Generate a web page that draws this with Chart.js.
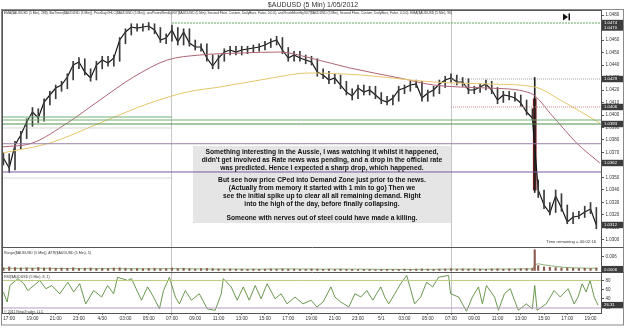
<!DOCTYPE html>
<html>
<head>
<meta charset="utf-8">
<script src="https://cdn.jsdelivr.net/npm/chart.js@4.4.1/dist/chart.umd.min.js"></script>
<style>
  html, body { margin: 0; padding: 0; background: #fff; }
  #wrap { width: 625px; height: 330px; }
</style>
</head>
<body>
<div id="wrap"><canvas id="c" width="625" height="330"></canvas></div>
<script>
// hours are counted from 17:00 on 4/29, one close every 30 min starting 16:30
const closes = [
  1.03656, 1.03576, 1.03760, 1.03840, 1.03944, 1.04024, 1.03976, 1.04104, 1.04160, 1.04216,
  1.04240, 1.04304, 1.04400, 1.04424, 1.04344, 1.04296, 1.04400, 1.04440, 1.04416, 1.04456,
  1.04600, 1.04664, 1.04704, 1.04696, 1.04704, 1.04712, 1.04680, 1.04600, 1.04616, 1.04680,
  1.04584, 1.04664, 1.04576, 1.04544, 1.04544, 1.04456, 1.04392, 1.04456, 1.04504, 1.04520,
  1.04504, 1.04520, 1.04528, 1.04536, 1.04544, 1.04560, 1.04584, 1.04600, 1.04520, 1.04456,
  1.04480, 1.04456, 1.04440, 1.04424, 1.04344, 1.04320, 1.04280, 1.04296, 1.04240, 1.04184,
  1.04152, 1.04216, 1.04184, 1.04200, 1.04160, 1.04120, 1.04104, 1.04136, 1.04200, 1.04216,
  1.04240, 1.04248, 1.04136, 1.04176, 1.04200, 1.04248, 1.04280, 1.04296, 1.04264, 1.04264,
  1.04200, 1.04200, 1.04224, 1.04248, 1.04200, 1.04120, 1.04160, 1.04152, 1.04136, 1.04096,
  1.04024, 1.03976, 1.03400, 1.03280, 1.03216, 1.03352, 1.03256, 1.03144, 1.03184, 1.03192,
  1.03224, 1.03248, 1.03120
];
const highs = [
  1.0370, 1.0369, 1.0379, 1.0387, 1.0397, 1.0406, 1.0405, 1.0413, 1.0419, 1.0424,
  1.0427, 1.0433, 1.0443, 1.0446, 1.0445, 1.0437, 1.0443, 1.0447, 1.0447, 1.0448,
  1.0462, 1.0469, 1.0473, 1.0473, 1.0473, 1.0474, 1.0473, 1.0470, 1.0465, 1.0472,
  1.0470, 1.0469, 1.0469, 1.0460, 1.0457, 1.0457, 1.0448, 1.0448, 1.0453, 1.0455,
  1.0455, 1.0455, 1.0455, 1.0456, 1.0457, 1.0459, 1.0461, 1.0463, 1.0462, 1.0454,
  1.0451, 1.0451, 1.0448, 1.0447, 1.0445, 1.0437, 1.0435, 1.0433, 1.0432, 1.0427,
  1.0421, 1.0424, 1.0424, 1.0423, 1.0423, 1.0418, 1.0415, 1.0416, 1.0423, 1.0424,
  1.0427, 1.0428, 1.0427, 1.0420, 1.0423, 1.0428, 1.0431, 1.0433, 1.0432, 1.0430,
  1.0429, 1.0423, 1.0425, 1.0428, 1.0427, 1.0422, 1.0419, 1.0419, 1.0418, 1.0416,
  1.0412, 1.0405, 1.0348, 1.0340, 1.0330, 1.0340, 1.0337, 1.0328, 1.0322, 1.0323,
  1.0327, 1.0330, 1.0326
];
const lows = [
  1.0360, 1.0354, 1.0356, 1.0373, 1.0381, 1.0391, 1.0394, 1.0395, 1.0408, 1.0413,
  1.0419, 1.0421, 1.0428, 1.0437, 1.0432, 1.0427, 1.0428, 1.0437, 1.0439, 1.0439,
  1.0443, 1.0457, 1.0464, 1.0467, 1.0467, 1.0468, 1.0465, 1.0458, 1.0457, 1.0459,
  1.0456, 1.0456, 1.0455, 1.0452, 1.0451, 1.0443, 1.0437, 1.0437, 1.0443, 1.0448,
  1.0448, 1.0448, 1.0449, 1.0450, 1.0451, 1.0452, 1.0454, 1.0456, 1.0449, 1.0443,
  1.0443, 1.0443, 1.0441, 1.0440, 1.0431, 1.0429, 1.0425, 1.0425, 1.0421, 1.0416,
  1.0412, 1.0413, 1.0416, 1.0416, 1.0413, 1.0409, 1.0408, 1.0408, 1.0411, 1.0417,
  1.0419, 1.0422, 1.0411, 1.0411, 1.0415, 1.0417, 1.0422, 1.0426, 1.0424, 1.0423,
  1.0417, 1.0417, 1.0418, 1.0420, 1.0417, 1.0409, 1.0410, 1.0412, 1.0411, 1.0407,
  1.0400, 1.0396, 1.0334, 1.0325, 1.0320, 1.0322, 1.0323, 1.0313, 1.0313, 1.0317,
  1.0318, 1.0321, 1.0309
];
const closeHours = closes.map((_, i) => -0.5 + i * 0.5);

// the RBA bar (14:15 on 5/1)
const newsHour = 45.2;
const newsHigh = 1.0430;
const newsOpen = 1.0413;
const newsClose = 1.0340;
const newsLow = 1.0338;

const ema96Hours = [-0.6, 2.0, 5.0, 7.8, 10.7, 13.6, 16.4, 19.9, 23.3, 25.9, 29.3, 33.6, 36.5, 41.1, 44.8, 46.8, 48.8, 50.8];
const ema96 = [1.03744, 1.03776, 1.03936, 1.0412, 1.04304, 1.0444, 1.0448, 1.04496, 1.04504, 1.04456, 1.04376, 1.04296, 1.0424, 1.04216, 1.04176, 1.03984, 1.03776, 1.03616];
const ema288Hours = [-0.6, 3.5, 7.8, 12.1, 15.3, 18.1, 21.6, 25.9, 30.2, 36.5, 41.4, 45.2, 47.4, 50.8];
const ema288 = [1.03696, 1.03776, 1.03936, 1.04096, 1.04184, 1.04224, 1.0428, 1.04336, 1.0432, 1.04264, 1.04248, 1.04224, 1.0412, 1.03936];

// pivots / prior day levels
const levelPrices = [1.04736, 1.04288, 1.04064, 1.03984, 1.0396, 1.03928, 1.03896, 1.0377, 1.03544, 1.03496];
const levelFrom = [14, 38, 38, -1, -1, -1, -1, -1, -1, -1];
const levelTo = [52, 52, 52, 14, 52, 52, 14, 52, 52, 14];
const levelStyles = [
  { color: '#62a862', dash: [2, 1] },
  { color: '#a0a0a0', dash: [1, 1] },
  { color: '#c48c8c', dash: [1, 1] },
  { color: '#72ae72', dash: [] },
  { color: '#72ae72', dash: [] },
  { color: '#4f8f4f', dash: [] },
  { color: '#b0b0b0', dash: [1, 1] },
  { color: '#9c80aa', dash: [] },
  { color: '#7a5c98', dash: [] },
  { color: '#b0b0b0', dash: [1, 1] }
];

const rangeValues = [
  0.0012, 0.0016, 0.0013, 0.0011, 0.0012, 0.0010, 0.0013, 0.0011, 0.0012, 0.0010,
  0.0011, 0.0010, 0.0012, 0.0009, 0.0010, 0.0011, 0.0009, 0.0010, 0.0009, 0.0011,
  0.0012, 0.0010, 0.0008, 0.0009, 0.0008, 0.0009, 0.0010, 0.0008, 0.0009, 0.0011,
  0.0009, 0.0010, 0.0008, 0.0007, 0.0008, 0.0009, 0.0008, 0.0007, 0.0006, 0.0007,
  0.0006, 0.0006, 0.0005, 0.0006, 0.0005, 0.0006, 0.0007, 0.0006, 0.0007, 0.0006,
  0.0006, 0.0005, 0.0006, 0.0007, 0.0006, 0.0005, 0.0006, 0.0005, 0.0006, 0.0005,
  0.0005, 0.0004, 0.0005, 0.0005, 0.0004, 0.0005, 0.0005, 0.0004, 0.0005, 0.0006,
  0.0005, 0.0006, 0.0007, 0.0006, 0.0005, 0.0006, 0.0007, 0.0008, 0.0006, 0.0007,
  0.0006, 0.0007, 0.0006, 0.0005, 0.0007, 0.0008, 0.0006, 0.0007, 0.0006, 0.0008,
  0.0009, 0.0010, 0.0022, 0.0016, 0.0014, 0.0013, 0.0011, 0.0012, 0.0010, 0.0009,
  0.0010, 0.0009, 0.0011
];
const newsRange = 0.0092;
const atrHours = [-0.5, 2, 4, 6, 8, 10, 12, 14, 16, 18, 20, 22, 24, 26, 28, 30, 32, 34, 36, 38, 40, 42, 44, 45, 45.2, 45.5, 46, 47, 48, 49, 50, 50.6];
const atrValues = [0.0009, 0.0010, 0.0009, 0.0008, 0.0008, 0.0008, 0.0007, 0.0008, 0.0007, 0.0006, 0.0006, 0.0006, 0.0007, 0.0006, 0.0006, 0.0006, 0.0005, 0.0005, 0.0005, 0.0006, 0.0006, 0.0006, 0.0007, 0.0007, 0.0025, 0.0030, 0.0025, 0.0018, 0.0013, 0.0011, 0.0010, 0.0010];

const rsiHours = [-0.5, -0.18, 0.06, 0.75, 1.26, 1.6, 2.63, 3.15, 3.66, 4.35, 5.04, 5.55, 6.06, 6.58, 7.26, 7.95, 8.46, 8.98, 9.32, 10.18,
  10.52, 11.04, 11.38, 11.9, 12.41, 12.92, 13.27, 13.78, 14.29, 14.64, 15.15, 15.67, 16.35, 17.04, 17.72, 18.24, 18.41, 19.09, 19.61, 20.13,
  20.64, 21.16, 21.67, 22.18, 22.87, 23.38, 23.9, 24.58, 25.27, 25.96, 26.47, 26.99, 27.67, 28.01, 28.53, 29.21, 29.73, 30.24, 30.76, 31.27,
  31.96, 32.3, 32.64, 33.16, 33.67, 34.19, 34.87, 35.39, 35.9, 36.42, 36.93, 37.79, 37.96, 38.65, 39.33, 39.84, 40.36, 40.7, 41.05, 41.74,
  42.08, 42.59, 43.1, 43.45, 43.79, 44.48, 44.99, 45.2, 45.4, 46.19, 46.87, 47.39, 48.07, 48.59, 48.93, 49.28, 49.62, 49.96, 50.31, 50.65];
const rsiValues = [55, 33, 69, 84, 73, 58, 80, 62, 69, 51, 76, 55, 73, 29, 58, 44, 69, 51, 87, 80,
  84, 55, 37, 66, 44, 18, 58, 87, 44, 29, 58, 37, 51, 18, 15, 51, 84, 66, 37, 66,
  37, 69, 40, 73, 40, 51, 29, 44, 29, 37, 22, 33, 66, 44, 33, 22, 51, 44, 58, 37,
  66, 44, 29, 51, 73, 91, 29, 44, 76, 66, 87, 91, 51, 44, 13, 44, 66, 29, 69, 44,
  15, 51, 62, 37, 15, 29, 18, 69, 15, 29, 58, 44, 62, 29, 44, 73, 55, 80, 44, 26];
const rsiLevels = [80, 20];

const priceTicks = [1.030, 1.031, 1.032, 1.033, 1.034, 1.035, 1.036, 1.037, 1.038, 1.039,
  1.040, 1.041, 1.042, 1.043, 1.044, 1.045, 1.046, 1.047, 1.048];
const rangeTicks = [0.006];
const rsiTicks = [20, 40, 60, 80];
const timeTicks = [0, 2, 4, 6, 8, 10, 12, 14, 16, 18, 20, 22, 24, 26, 28, 30, 32, 34, 36, 38, 40, 42, 44, 46, 48, 50];
const timeLabels = ['17:00', '19:00', '21:00', '23:00', '4/30', '03:00', '05:00', '07:00', '09:00', '11:00', '13:00', '15:00', '17:00',
  '19:00', '21:00', '23:00', '5/1', '03:00', '05:00', '07:00', '09:00', '11:00', '13:00', '15:00', '17:00', '19:00'];
const sessionBreaks = [14, 38];

// right-axis marker boxes
const markerPrices = [1.04736, 1.0470, 1.04288, 1.04064, 1.03928, 1.03616, closes[closes.length - 1]];
const rangeMarker = 0.0006;
const rsiMarker = 26.31;

const noteLines = [
  "Something interesting in the Aussie, I was watching it whilst it happened,",
  "didn't get involved as Rate news was pending, and a drop in the official rate",
  "was predicted. Hence I expected a sharp drop, which happened.",
  "But see how price CPed into Demand Zone just prior to the news.",
  "(Actually from memory it started with 1 min to go) Then we",
  "see the initial spike up to clear all all remaining demand. Right",
  "into the high of the day, before finally collapsing.",
  "Someone with nerves out of steel could have made a killing."
];
const noteLineGaps = [6, 14, 22, 34, 42, 50, 58, 72];
const noteBox = { from: 15.8, to: 38.0, top: 1.03752, bottom: 1.03136 };

const indicatorText = "EMA($AUDUSD (5 Min), 288), BarTimer($AUDUSD (5 Min)), PriorDayOHLC($AUDUSD (5 Min)), ansPivotsWeeklyV07($AUDUSD (5 Min), Second Floor, Custom, DailyBars, False, 0,0,0), ansPivotsMonthlyV07($AUDUSD (5 Min), Second Floor, Custom, DailyBars, False, 0,0,0), EMA($AUDUSD (5 Min), 96)";

const FONT = "'Liberation Sans', Arial, sans-serif";
const xy = (xs, ys) => xs.map((x, i) => ({ x: x, y: ys[i] }));

const datasets = [];
levelPrices.forEach((p, i) => {
  datasets.push({
    type: 'line', yAxisID: 'y',
    data: [{ x: levelFrom[i], y: p }, { x: levelTo[i], y: p }],
    borderColor: levelStyles[i].color, borderDash: levelStyles[i].dash, borderWidth: 1
  });
});
datasets.push({ type: 'line', yAxisID: 'y', data: xy(ema288Hours, ema288), borderColor: '#e6c66a', borderWidth: 1, cubicInterpolationMode: 'monotone' });
datasets.push({ type: 'line', yAxisID: 'y', data: xy(ema96Hours, ema96), borderColor: '#b06474', borderWidth: 1, cubicInterpolationMode: 'monotone' });
// high-low whiskers of the 5 min bars
datasets.push({ type: 'bar', yAxisID: 'y', grouped: false, barThickness: 1, backgroundColor: '#3a3a3a',
  data: closeHours.map((h, i) => ({ x: h, y: [lows[i], highs[i]] })) });
datasets.push({ type: 'line', yAxisID: 'y', data: xy(closeHours, closes), borderColor: '#161616', borderWidth: 1.2 });
datasets.push({ type: 'bar', yAxisID: 'y', grouped: false, barThickness: 1, backgroundColor: '#222',
  data: [{ x: newsHour, y: [newsLow, newsHigh] }] });
datasets.push({ type: 'bar', yAxisID: 'y', grouped: false, barThickness: 3, backgroundColor: '#7a1c1c',
  data: [{ x: newsHour, y: [newsClose, newsOpen] }] });
datasets.push({ type: 'bar', yAxisID: 'yRange', grouped: false, barThickness: 1.5, backgroundColor: '#8c5e52',
  data: xy(closeHours, rangeValues).concat([{ x: newsHour, y: newsRange }]) });
datasets.push({ type: 'line', yAxisID: 'yRange', data: xy(atrHours, atrValues), borderColor: '#6f9f55', borderWidth: 0.8 });
datasets.push({ type: 'line', yAxisID: 'yRsi', data: [{ x: -1, y: rsiLevels[0] }, { x: 52, y: rsiLevels[0] }], borderColor: '#bccb80', borderWidth: 1 });
datasets.push({ type: 'line', yAxisID: 'yRsi', data: [{ x: -1, y: rsiLevels[1] }, { x: 52, y: rsiLevels[1] }], borderColor: '#b89cc4', borderWidth: 1 });
datasets.push({ type: 'line', yAxisID: 'yRsi', data: xy(rsiHours, rsiValues), borderColor: '#5a8c3c', borderWidth: 0.9 });

const yAxisCommon = {
  position: 'right', stack: 'panels', beginAtZero: false,
  afterFit: (s) => { s.width = 23; },
  grid: { drawOnChartArea: false, drawTicks: true, tickLength: 3, color: '#555' },
  border: { color: '#555' },
  ticks: { font: { size: 4.5, family: FONT }, color: '#333', padding: 1.5, autoSkip: false }
};

const overlay = {
  id: 'overlay',
  beforeDatasetsDraw(chart) {
    const { ctx, scales } = chart;
    const l = scales.x.getPixelForValue(noteBox.from), r = scales.x.getPixelForValue(noteBox.to);
    const t = scales.y.getPixelForValue(noteBox.top), b = scales.y.getPixelForValue(noteBox.bottom);
    ctx.save();
    ctx.fillStyle = '#e5e5e5';
    ctx.fillRect(l, t, r - l, b - t);
    ctx.restore();
  },
  afterDatasetsDraw(chart) {
    const { ctx, scales } = chart;
    const l = scales.x.getPixelForValue(noteBox.from), r = scales.x.getPixelForValue(noteBox.to);
    const t = scales.y.getPixelForValue(noteBox.top);
    ctx.save();
    ctx.fillStyle = '#111';
    ctx.font = 'bold 6.7px ' + FONT;
    ctx.textAlign = 'center';
    ctx.textBaseline = 'middle';
    noteLines.forEach((s, i) => ctx.fillText(s, (l + r) / 2, t + noteLineGaps[i]));
    ctx.restore();
  },
  afterDraw(chart) {
    const { ctx, chartArea: a, scales } = chart;
    const W = chart.width;
    ctx.save();
    ctx.lineWidth = 1;
    // frame
    ctx.strokeStyle = '#8a8a8a';
    ctx.strokeRect(1.5, Math.round(a.top) - 0.5, W - 3, 325 - Math.round(a.top) + 0.5);
    ctx.strokeStyle = '#555';
    ctx.beginPath();
    ctx.moveTo(Math.round(a.left) + 0.5, a.top); ctx.lineTo(Math.round(a.left) + 0.5, a.bottom);
    ctx.moveTo(a.left, Math.round(a.top) + 0.5); ctx.lineTo(a.right, Math.round(a.top) + 0.5);
    [scales.yRange.top, scales.yRsi.top].forEach((yy) => {
      ctx.moveTo(1.5, Math.round(yy) + 0.5); ctx.lineTo(W - 1.5, Math.round(yy) + 0.5);
    });
    ctx.stroke();

    // small texts
    ctx.fillStyle = '#333';
    ctx.textBaseline = 'middle';
    ctx.textAlign = 'left';
    ctx.font = '3.3px ' + FONT;
    ctx.fillText(indicatorText, a.left + 2, a.top + 3.5);
    ctx.font = '3.6px ' + FONT;
    ctx.fillText('Range($AUDUSD (5 Min)), ATR($AUDUSD (5 Min), 5)', a.left + 2, scales.yRange.top + 6.5);
    ctx.fillText('RSI($AUDUSD (5 Min), 8, 1)', a.left + 2, scales.yRsi.top + 5);
    ctx.fillText('\u00a9 2011 NinjaTrader, LLC', a.left + 2, scales.yRsi.bottom - 1.5);
    ctx.textAlign = 'right';
    ctx.font = '4.2px ' + FONT;
    ctx.fillText('Time remaining = 00:02:16', a.right - 5, scales.y.bottom - 5);

    // play/end icon
    ctx.fillStyle = '#111';
    const ix = a.right - 38, iy = a.top + 7;
    ctx.beginPath();
    ctx.moveTo(ix, iy - 3.5); ctx.lineTo(ix + 5, iy); ctx.lineTo(ix, iy + 3.5); ctx.closePath();
    ctx.fill();
    ctx.fillRect(ix + 5.5, iy - 3.5, 1.5, 7);

    // marker boxes on the axes
    const box = (yy, txt) => {
      ctx.fillStyle = '#3c3c3c';
      ctx.fillRect(a.right + 1, yy - 3.2, 21, 6.4);
      ctx.fillStyle = '#fff';
      ctx.font = '4.3px ' + FONT;
      ctx.textAlign = 'left';
      ctx.fillText(txt, a.right + 3, yy + 0.2);
    };
    markerPrices.forEach((p) => box(scales.y.getPixelForValue(p), p.toFixed(4)));
    box(scales.yRange.getPixelForValue(rangeMarker), rangeMarker.toFixed(4));
    box(scales.yRsi.getPixelForValue(rsiMarker), rsiMarker.toFixed(2));
    ctx.restore();
  }
};

new Chart(document.getElementById('c'), {
  type: 'line',
  data: { datasets: datasets },
  options: {
    responsive: false,
    animation: false,
    events: [],
    layout: { padding: { left: 2, right: 1, top: 0, bottom: 5 } },
    elements: { point: { radius: 0 }, line: { borderWidth: 1 } },
    plugins: {
      legend: { display: false },
      tooltip: { enabled: false },
      title: {
        display: true, text: '$AUDUSD (5 Min) 1/05/2012', color: '#333',
        font: { size: 7, family: FONT, weight: 'normal' }, padding: { top: 0.5, bottom: 1 }
      }
    },
    scales: {
      x: {
        type: 'linear', min: -0.62, max: 50.9, offset: false,
        afterBuildTicks: (s) => { s.ticks = timeTicks.map((v) => ({ value: v })); },
        afterFit: (s) => { s.height = 12; },
        ticks: {
          callback: (v, i) => timeLabels[i], font: { size: 4.8, family: FONT }, color: '#333',
          maxRotation: 0, autoSkip: false, padding: 1
        },
        grid: {
          offset: false, tickLength: 2, tickColor: '#777', lineWidth: 1,
          color: (c) => (c.tick && sessionBreaks.includes(c.tick.value) ? '#c6c6c6' : 'rgba(0,0,0,0)')
        },
        border: { color: '#555' }
      },
      y: Object.assign({}, yAxisCommon, {
        stackWeight: 237, min: 1.02944, max: 1.04841,
        afterBuildTicks: (s) => { s.ticks = priceTicks.map((v) => ({ value: v })); },
        ticks: Object.assign({}, yAxisCommon.ticks, { callback: (v) => v.toFixed(4) })
      }),
      yRange: Object.assign({}, yAxisCommon, {
        stackWeight: 25, min: -0.00067, max: 0.01044,
        afterBuildTicks: (s) => { s.ticks = rangeTicks.map((v) => ({ value: v })); },
        ticks: Object.assign({}, yAxisCommon.ticks, { callback: (v) => v.toFixed(3) })
      }),
      yRsi: Object.assign({}, yAxisCommon, {
        stackWeight: 41, min: 9.1, max: 98.5,
        afterBuildTicks: (s) => { s.ticks = rsiTicks.map((v) => ({ value: v })); },
        ticks: Object.assign({}, yAxisCommon.ticks, { callback: (v) => String(v) })
      })
    }
  },
  plugins: [overlay]
});
</script>
</body>
</html>
